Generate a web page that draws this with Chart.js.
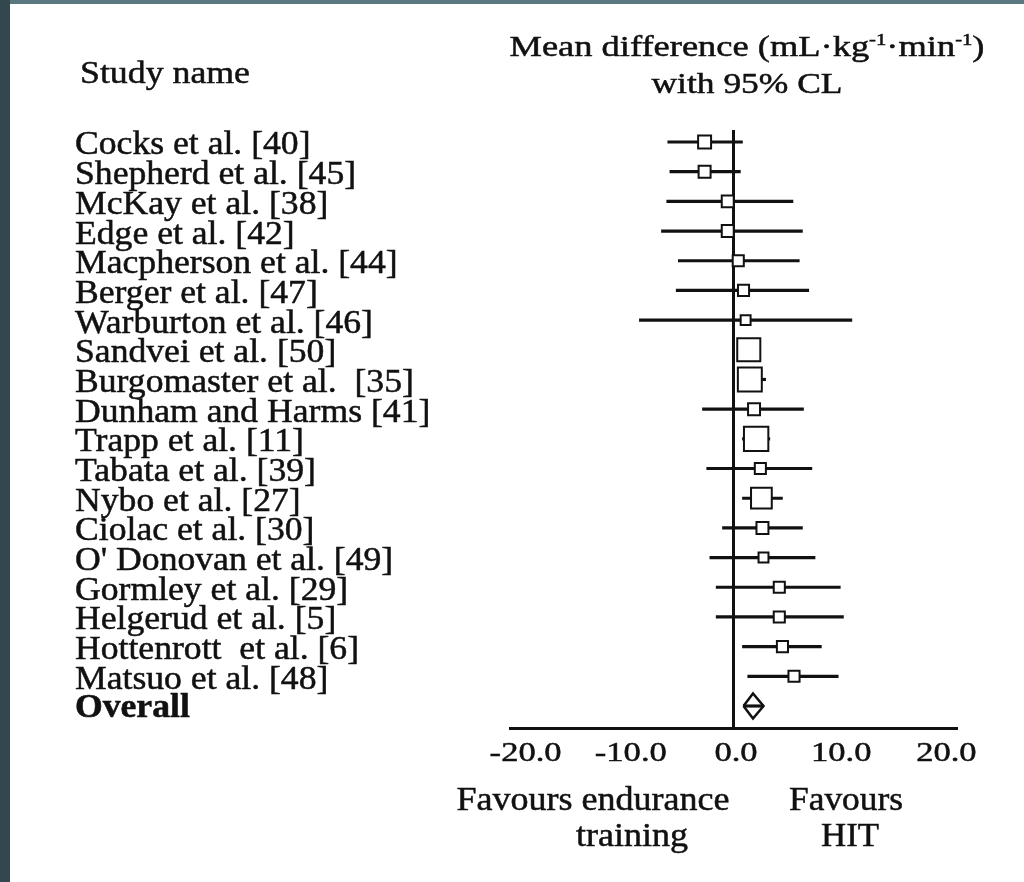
<!DOCTYPE html>
<html>
<head>
<meta charset="utf-8">
<title>Forest plot: HIT vs endurance training</title>
<script src="https://cdn.jsdelivr.net/npm/chart.js@4.4.1/dist/chart.umd.min.js"></script>
<style>
  html, body { margin: 0; padding: 0; width: 1024px; height: 882px; overflow: hidden; background: #33484e; }
  #band { position: absolute; left: 10px; top: 0; width: 1014px; height: 4px; background: #5a7880; }
  #panel { position: absolute; left: 10px; top: 4px; width: 1014px; height: 878px; background: #fff; }
  canvas { display: block; }
</style>
</head>
<body>
<div id="band"></div>
<div id="panel"><canvas id="forest" width="1014" height="878"></canvas></div>
<script>
// Study labels, top to bottom
const studies = [
  'Cocks et al. [40]', 'Shepherd et al. [45]', 'McKay et al. [38]', 'Edge et al. [42]',
  'Macpherson et al. [44]', 'Berger et al. [47]', 'Warburton et al. [46]', 'Sandvei et al. [50]',
  'Burgomaster et al.  [35]', 'Dunham and Harms [41]', 'Trapp et al. [11]', 'Tabata et al. [39]',
  'Nybo et al. [27]', 'Ciolac et al. [30]', "O' Donovan et al. [49]", 'Gormley et al. [29]',
  'Helgerud et al. [5]', 'Hottenrott  et al. [6]', 'Matsuo et al. [48]'
];
// Mean difference in VO2max (mL·kg-1·min-1) with 95% confidence limits
const meanDiff = [-2.7, -2.7, -0.5, -0.5, 0.5, 1.0, 1.2, 1.5, 1.6, 2.0, 2.2, 2.6, 2.7, 2.8, 2.9, 4.4, 4.4, 4.7, 5.8];
const ciLower  = [-6.2, -6.0, -6.3, -6.8, -5.2, -5.4, -8.9, 0.6, 0.8, -2.9, 0.9, -2.5, 0.9, -1.0, -2.2, -1.6, -1.6, 0.9, 1.4];
const ciUpper  = [0.9, 0.7, 5.7, 6.6, 6.3, 7.2, 11.3, 2.4, 3.1, 6.7, 3.5, 7.5, 4.7, 6.6, 7.8, 10.2, 10.5, 8.4, 10.0];
// Relative study weights (%)
const weights  = [4.1, 3.5, 3.5, 3.5, 3.0, 3.0, 2.4, 13.0, 14.0, 3.5, 14.5, 3.0, 10.5, 3.5, 2.4, 3.0, 3.0, 3.0, 3.0];
// Pooled estimate
const overallLabel = 'Overall';
const overallMean = 1.9;
const overallLower = 1.0;
const overallUpper = 2.9;
// Axis ticks
const axisTicks = [-20, -10, 0, 10, 20];

const INK = '#111';
const SERIF = '"Liberation Serif", "Times New Roman", serif';
const overallRow = studies.length;

// Box side grows with the square root of the study weight
const boxRadius = w => 6.4 * Math.sqrt(w) / Math.SQRT2;

const ciBars = studies.map((s, i) => ({ y: i, x: [ciLower[i], ciUpper[i]] }));
ciBars.push({ y: overallRow, x: [overallLower, overallUpper] });

const boxes = studies.map((s, i) => ({ y: i, x: meanDiff[i] }));

const halfH = 0.42; // diamond half-height in row units
const diamond = [
  { x: overallLower, y: overallRow },
  { x: overallMean, y: overallRow - halfH },
  { x: overallUpper, y: overallRow },
  { x: overallMean, y: overallRow + halfH },
  { x: overallLower, y: overallRow }
];

// Text drawn with a horizontal stretch and a hairline stroke for a heavier print look
function drawStretched(ctx, str, x, y, size, weight, sx, align) {
  ctx.save();
  ctx.font = weight + ' ' + size + 'px ' + SERIF;
  ctx.textAlign = 'left';
  ctx.textBaseline = 'alphabetic';
  const w = ctx.measureText(str).width * sx;
  const left = align === 'center' ? x - w / 2 : (align === 'right' ? x - w : x);
  ctx.translate(left, y);
  ctx.scale(sx, 1);
  ctx.fillStyle = INK;
  ctx.strokeStyle = INK;
  ctx.lineWidth = 0.5;
  ctx.fillText(str, 0, 0);
  ctx.strokeText(str, 0, 0);
  ctx.restore();
}

function fitScale(ctx, str, size, weight, width) {
  ctx.save();
  ctx.font = weight + ' ' + size + 'px ' + SERIF;
  const w = ctx.measureText(str).width;
  ctx.restore();
  return width / w;
}

// Rich line: array of [text, isSuperscript]
function drawRichCentered(ctx, parts, cx, y, size, supSize, raise, width) {
  ctx.save();
  let natural = 0;
  parts.forEach(([t, sup]) => {
    ctx.font = 'normal ' + (sup ? supSize : size) + 'px ' + SERIF;
    natural += ctx.measureText(t).width;
  });
  const sx = width / natural;
  ctx.translate(cx - width / 2, y);
  ctx.scale(sx, 1);
  ctx.fillStyle = INK;
  ctx.strokeStyle = INK;
  ctx.lineWidth = 0.5;
  ctx.textBaseline = 'alphabetic';
  let x = 0;
  parts.forEach(([t, sup]) => {
    ctx.font = 'normal ' + (sup ? supSize : size) + 'px ' + SERIF;
    ctx.fillText(t, x, sup ? -raise : 0);
    ctx.strokeText(t, x, sup ? -raise : 0);
    x += ctx.measureText(t).width;
  });
  ctx.restore();
}

const textPlugin = {
  id: 'forestText',
  afterDraw(chart) {
    const ctx = chart.ctx;
    const xs = chart.scales.x;
    const ys = chart.scales.y;

    // Column headers
    drawStretched(ctx, 'Study name', 70, 79, 31, 'normal',
      fitScale(ctx, 'Study name', 31, 'normal', 170), 'left');
    drawRichCentered(ctx, [
      ['Mean difference (mL\u00b7kg', false], ['-1', true],
      ['\u00b7min', false], ['-1', true], [')', false]
    ], 737, 52, 30, 17, 11, 475);
    drawStretched(ctx, 'with 95% CL', 737, 89, 30, 'normal',
      fitScale(ctx, 'with 95% CL', 30, 'normal', 191), 'center');

    // Study names
    studies.forEach((name, i) => {
      drawStretched(ctx, name, 65, ys.getPixelForValue(i) + 12.5, 33, 'normal', 1.08, 'left');
    });
    drawStretched(ctx, overallLabel, 65, ys.getPixelForValue(overallRow) + 11, 33, 'bold', 1.08, 'left');

    // Tick labels
    const tickSx = fitScale(ctx, '-20.0', 28, 'normal', 72);
    xs.ticks.forEach(t => {
      drawStretched(ctx, t.value.toFixed(1), xs.getPixelForValue(t.value) + 3, 757, 28, 'normal', tickSx, 'center');
    });

    // Direction labels
    drawStretched(ctx, 'Favours endurance', 583, 806, 34, 'normal',
      fitScale(ctx, 'Favours endurance', 34, 'normal', 273), 'center');
    drawStretched(ctx, 'training', 622, 842, 34, 'normal',
      fitScale(ctx, 'training', 34, 'normal', 112), 'center');
    drawStretched(ctx, 'Favours', 836, 806, 34, 'normal',
      fitScale(ctx, 'Favours', 34, 'normal', 114), 'center');
    drawStretched(ctx, 'HIT', 840, 842, 34, 'normal',
      fitScale(ctx, 'HIT', 34, 'normal', 58), 'center');
  }
};

new Chart(document.getElementById('forest'), {
  type: 'scatter',
  data: {
    datasets: [
      {
        type: 'line',
        data: diamond,
        borderColor: INK,
        borderWidth: 2.5,
        backgroundColor: '#fff',
        fill: 'shape',
        pointRadius: 0,
        tension: 0,
        order: 3
      },
      {
        type: 'bar',
        indexAxis: 'y',
        data: ciBars,
        backgroundColor: INK,
        borderWidth: 0,
        barThickness: 2.5,
        grouped: false,
        order: 2
      },
      {
        type: 'scatter',
        data: boxes,
        pointStyle: 'rect',
        pointRadius: weights.map(boxRadius),
        pointBackgroundColor: '#fff',
        pointBorderColor: INK,
        pointBorderWidth: 2,
        order: 1
      }
    ]
  },
  options: {
    responsive: false,
    animation: false,
    devicePixelRatio: 1,
    layout: { padding: { left: 500, right: 68, top: 126, bottom: 154 } },
    plugins: { legend: { display: false }, tooltip: { enabled: false } },
    events: [],
    scales: {
      x: {
        type: 'linear',
        min: -21.2,
        max: 21.2,
        offset: false,
        z: 1,
        afterBuildTicks: s => { s.ticks = axisTicks.map(v => ({ value: v })); },
        afterFit: s => { s.height = 0; },
        ticks: { display: false },
        grid: {
          drawTicks: false,
          tickLength: 0,
          lineWidth: 3,
          offset: false,
          color: c => (c.tick && c.tick.value === 0) ? INK : 'rgba(0,0,0,0)'
        },
        border: { display: true, color: INK, width: 3 }
      },
      y: {
        type: 'linear',
        reverse: true,
        min: -0.404,
        max: 19.741,
        offset: false,
        display: false
      }
    }
  },
  plugins: [textPlugin]
});
</script>
</body>
</html>
